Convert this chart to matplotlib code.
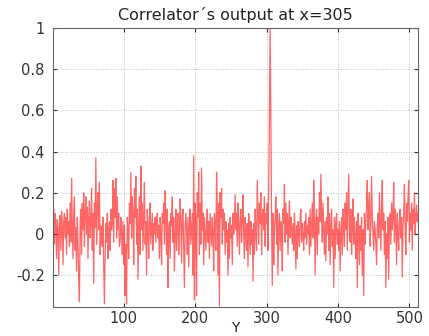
import numpy as np
import matplotlib
matplotlib.use("Agg")
import matplotlib.pyplot as plt

# Correlator output values (index 1..512)
corr_values = [
    0.08, 0.12, -0.05, 0.10, 0.03, -0.12, 0.07, 0.02,
    -0.20, 0.05, 0.09, -0.08, 0.11, 0.04, -0.15, 0.06,
    0.10, -0.02, 0.08, -0.10, 0.12, 0.00, 0.06, -0.06,
    0.15, -0.04, 0.27, 0.05, -0.12, 0.10, 0.18, -0.08,
    0.03, -0.18, 0.08, -0.05, -0.22, -0.33, 0.05, 0.12,
    -0.10, 0.15, 0.02, 0.20, -0.06, 0.10, 0.18, 0.00,
    0.13, -0.12, 0.08, 0.16, -0.02, 0.05, 0.22, -0.08,
    0.10, -0.24, 0.15, 0.03, 0.37, -0.05, 0.12, 0.20,
    0.02, 0.25, -0.10, 0.04, -0.02, -0.06, 0.08, -0.15,
    -0.34, -0.10, 0.05, -0.04, 0.10, -0.12, 0.02, 0.06,
    -0.08, 0.12, 0.02, 0.05, 0.26, -0.04, 0.22, 0.08,
    0.27, -0.02, 0.18, 0.02, 0.10, -0.06, -0.04, 0.08,
    0.00, -0.10, 0.06, -0.15, 0.04, -0.30, -0.05, -0.34,
    0.08, 0.02, -0.12, 0.15, 0.05, 0.30, -0.02, 0.18,
    0.10, -0.15, 0.22, 0.08, 0.28, -0.05, 0.12, -0.22,
    0.05, 0.18, -0.10, 0.33, 0.02, 0.15, -0.08, 0.10,
    0.25, -0.05, 0.06, -0.20, 0.12, 0.02, -0.12, 0.08,
    0.15, -0.05, 0.03, 0.10, -0.08, 0.05, 0.00, 0.08,
    -0.04, 0.06, 0.10, -0.02, 0.04, -0.12, 0.08, 0.02,
    -0.15, 0.10, 0.05, 0.15, -0.05, 0.21, 0.08, -0.10,
    0.12, -0.26, 0.02, 0.06, -0.12, 0.10, 0.04, 0.18,
    -0.04, 0.08, -0.18, 0.00, 0.12, -0.08, 0.05, 0.10,
    -0.10, 0.02, 0.17, 0.06, -0.14, 0.08, 0.12, -0.06,
    -0.26, 0.04, 0.10, 0.02, -0.10, 0.08, -0.16, 0.05,
    0.12, -0.05, 0.02, 0.10, -0.20, 0.38, -0.32, 0.15,
    0.05, -0.30, 0.20, 0.08, 0.30, -0.10, 0.15, -0.05,
    0.32, 0.02, 0.10, -0.15, 0.08, 0.00, -0.08, 0.05,
    0.12, -0.04, 0.06, -0.12, 0.10, 0.02, -0.06, 0.08,
    0.00, -0.18, 0.10, 0.05, -0.08, 0.30, 0.12, -0.20,
    0.15, -0.35, 0.20, 0.08, 0.22, -0.05, 0.12, 0.02,
    0.10, -0.10, 0.06, -0.04, 0.02, -0.20, 0.05, -0.12,
    0.08, -0.02, 0.04, -0.15, 0.10, 0.00, 0.06, 0.19,
    0.02, 0.10, -0.06, 0.15, 0.04, -0.10, 0.08, 0.12,
    -0.04, 0.06, 0.19, 0.00, -0.12, 0.08, 0.02, -0.08,
    0.05, -0.16, 0.10, 0.02, -0.10, 0.06, -0.05, 0.02,
    -0.23, 0.05, -0.10, 0.12, 0.00, -0.08, 0.26, 0.10,
    -0.05, 0.15, 0.05, 0.20, -0.10, 0.08, 0.12, 0.02,
    0.18, -0.06, 0.10, 0.05, 0.15, -0.08, 0.22, 0.56,
    1.00, 0.56, 0.05, -0.25, 0.10, -0.15, 0.02, 0.08,
    0.18, -0.05, 0.12, -0.20, 0.04, 0.10, -0.08, 0.06,
    0.02, -0.18, 0.12, 0.05, 0.24, -0.04, 0.15, 0.00,
    0.10, -0.10, 0.06, 0.16, -0.02, 0.08, 0.03, -0.05,
    0.05, -0.08, 0.10, 0.00, -0.17, 0.04, -0.12, 0.06,
    0.02, -0.06, 0.08, 0.12, -0.04, 0.05, 0.00, -0.08,
    0.06, -0.02, 0.10, -0.05, 0.04, 0.00, 0.08, -0.10,
    0.12, -0.06, 0.05, 0.15, -0.02, 0.26, 0.10, -0.20,
    0.05, 0.12, -0.10, 0.08, 0.00, 0.20, 0.06, 0.29,
    0.10, -0.04, 0.15, 0.02, -0.10, 0.06, -0.13, 0.08,
    0.00, 0.18, -0.08, 0.10, -0.15, 0.04, 0.12, -0.06,
    0.02, -0.26, 0.08, -0.12, 0.05, 0.10, -0.05, 0.02,
    -0.08, 0.06, -0.18, 0.00, 0.08, -0.10, 0.12, 0.04,
    -0.06, 0.15, 0.02, 0.20, -0.08, 0.10, 0.29, 0.05,
    -0.04, 0.12, -0.10, 0.02, 0.17, -0.05, 0.08, 0.00,
    -0.12, 0.06, -0.26, 0.10, 0.02, -0.15, 0.04, -0.08,
    0.08, -0.20, 0.02, -0.30, 0.10, -0.05, 0.06, 0.15,
    0.26, 0.02, 0.12, 0.20, -0.06, 0.05, 0.28, 0.08,
    0.00, -0.08, 0.06, 0.02, -0.05, -0.15, 0.04, 0.10,
    -0.02, 0.20, 0.05, -0.08, 0.12, 0.26, 0.02, 0.10,
    -0.10, 0.06, -0.26, 0.00, -0.12, 0.08, -0.22, 0.04,
    0.10, -0.05, 0.15, 0.02, 0.08, 0.25, -0.04, 0.12,
    0.05, -0.15, 0.10, 0.00, -0.08, 0.06, 0.12, -0.02,
    0.08, -0.21, 0.04, 0.10, 0.24, 0.02, -0.10, 0.15,
    0.06, 0.18, 0.26, -0.04, 0.10, 0.02, 0.15, -0.08,
    0.12, 0.05, 0.20, 0.00, 0.08, 0.14, 0.06, 0.10,
]
y_index = np.arange(1, len(corr_values) + 1)

title_text = "Correlator\u00b4s output at x=305"
xlabel_text = "Y"
xticks = [100, 200, 300, 400, 500]
xtick_labels = ["100", "200", "300", "400", "500"]
yticks = [-0.2, 0, 0.2, 0.4, 0.6, 0.8, 1]
ytick_labels = ["-0.2", "0", "0.2", "0.4", "0.6", "0.8", "1"]

plt.rcParams['font.family'] = ['DejaVu Sans']

fig = plt.figure(figsize=(4.29, 3.36), dpi=100)
ax = fig.add_axes([53/429, 1 - 307/336, (418 - 53)/429, (307 - 28)/336])

ax.plot(y_index, corr_values, color='#ff0000', lw=0.9, alpha=0.6)

ax.set_xlim(1, 512)
ax.set_ylim(-0.355, 1.0)
ax.set_xticks(xticks)
ax.set_xticklabels(xtick_labels)
ax.set_yticks(yticks)
ax.set_yticklabels(ytick_labels)
ax.tick_params(direction='in', length=3, labelsize=10.5, colors='#333333',
               top=True, right=True, pad=3)
ax.tick_params(axis='y', pad=6)
ax.grid(True, linestyle=(0, (1, 2)), color='#aaaaaa', linewidth=0.6)
for s in ax.spines.values():
    s.set_color('#666666')
    s.set_linewidth(0.8)

ax.set_title(title_text, fontsize=11.5, color='#222222', pad=6)
fig.text(235.5/429, 1 - 328/336, xlabel_text, fontsize=10, color='#222222',
         ha='center', va='center')

fig.savefig("out.png", dpi=100)
